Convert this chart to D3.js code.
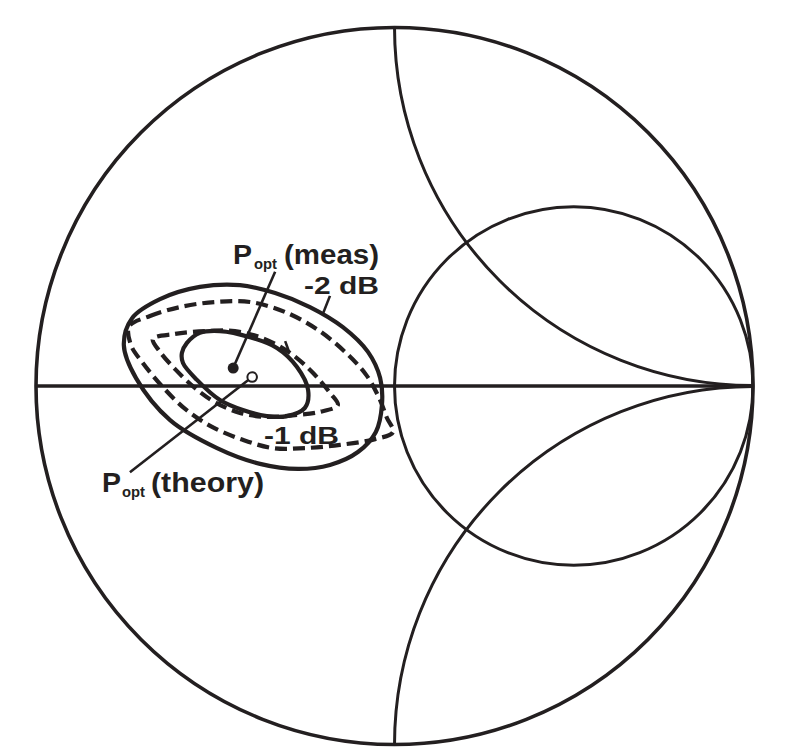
<!DOCTYPE html>
<html>
<head>
<meta charset="utf-8">
<script src="https://cdn.jsdelivr.net/npm/d3@7/dist/d3.min.js"></script>
<style>
  body { margin: 0; background: #fff; }
  text { font-family: "Liberation Sans", Arial, sans-serif; font-weight: bold; fill: #231f20; }
</style>
</head>
<body>
<div id="chart"></div>
<script>
const W = 802, H = 754;
const INK = "#231f20";

// smith chart grid (normalised impedance)
const resistanceCircles = [1];
const reactanceArcs = [1, -1];

// gain contours, points in the reflection-coefficient plane [re, im]
const measMinus1dB = [
  [-0.593, 0.092], [-0.579, 0.120], [-0.543, 0.148], [-0.487, 0.153], [-0.403, 0.136],
  [-0.328, 0.106], [-0.272, 0.053], [-0.241, -0.011], [-0.250, -0.061], [-0.300, -0.084],
  [-0.356, -0.084], [-0.423, -0.067], [-0.487, -0.039], [-0.551, 0.017], [-0.590, 0.064]
];
const measMinus2dB = [
  [-0.035, -0.053], [-0.052, -0.128], [-0.102, -0.184], [-0.180, -0.220], [-0.269, -0.231],
  [-0.375, -0.217], [-0.495, -0.173], [-0.626, -0.095], [-0.721, 0.022], [-0.755, 0.114],
  [-0.732, 0.189], [-0.654, 0.242], [-0.543, 0.276], [-0.431, 0.281], [-0.333, 0.259],
  [-0.236, 0.220], [-0.144, 0.164], [-0.074, 0.095], [-0.040, 0.022]
];
const theoryMinus1dB = [
  [-0.674, 0.131], [-0.612, 0.145], [-0.529, 0.153], [-0.445, 0.153], [-0.370, 0.134],
  [-0.291, 0.092], [-0.227, 0.036], [-0.180, -0.019], [-0.158, -0.053], [-0.208, -0.072],
  [-0.278, -0.081], [-0.356, -0.086], [-0.431, -0.075], [-0.501, -0.045], [-0.556, -0.006],
  [-0.612, 0.047], [-0.654, 0.095]
];
const theoryMinus2dB = [
  [-0.740, 0.166], [-0.682, 0.195], [-0.598, 0.220], [-0.501, 0.234], [-0.403, 0.234],
  [-0.305, 0.206], [-0.213, 0.156], [-0.138, 0.095], [-0.079, 0.031], [-0.043, -0.033],
  [-0.021, -0.089], [-0.004, -0.128], [-0.054, -0.148], [-0.152, -0.164], [-0.250, -0.173],
  [-0.339, -0.173], [-0.423, -0.150], [-0.509, -0.114], [-0.584, -0.064], [-0.649, 0.000],
  [-0.702, 0.064], [-0.735, 0.114]
];
const poptMeas = [-0.450, 0.050];
const poptTheory = [-0.397, 0.025];

const svg = d3.select("#chart").append("svg")
  .attr("width", W)
  .attr("height", H);

const x = d3.scaleLinear().domain([-1, 1]).range([36, 753]);
const y = d3.scaleLinear().domain([-1, 1]).range([745, 27]);
const rad = v => x(v) - x(0);

svg.append("clipPath").attr("id", "unit")
  .append("circle")
  .attr("cx", x(0)).attr("cy", y(0)).attr("r", rad(1));

const grid = svg.append("g").attr("fill", "none").attr("stroke", INK);

// real axis
grid.append("line")
  .attr("x1", x(-1)).attr("x2", x(1))
  .attr("y1", y(0)).attr("y2", y(0))
  .attr("stroke-width", 3.3);

// constant resistance
grid.selectAll(".res").data(resistanceCircles).enter()
  .append("circle")
  .attr("cx", r => x(r / (1 + r)))
  .attr("cy", y(0))
  .attr("r", r => rad(1 / (1 + r)))
  .attr("stroke-width", 3);

// constant reactance
grid.selectAll(".reac").data(reactanceArcs).enter()
  .append("circle")
  .attr("clip-path", "url(#unit)")
  .attr("cx", x(1))
  .attr("cy", xx => y(1 / xx))
  .attr("r", xx => rad(1 / Math.abs(xx)))
  .attr("stroke-width", 3);

// outer rim
grid.append("circle")
  .attr("cx", x(0)).attr("cy", y(0)).attr("r", rad(1))
  .attr("stroke-width", 3.6);

const contour = d3.line()
  .x(d => x(d[0]))
  .y(d => y(d[1]))
  .curve(d3.curveCatmullRomClosed.alpha(0.5));

const contours = [
  { pts: theoryMinus2dB, dash: "12,6" },
  { pts: theoryMinus1dB, dash: "12,6" },
  { pts: measMinus2dB, dash: null },
  { pts: measMinus1dB, dash: null }
];

svg.append("g").selectAll("path").data(contours).enter()
  .append("path")
  .attr("d", d => contour(d.pts))
  .attr("fill", "none")
  .attr("stroke", INK)
  .attr("stroke-width", 4.2)
  .attr("stroke-dasharray", d => d.dash);

// leaders
const leaders = svg.append("g").attr("stroke", INK).attr("stroke-width", 2.6);
leaders.append("line")
  .attr("x1", x(poptMeas[0])).attr("y1", y(poptMeas[1]))
  .attr("x2", x(-0.333)).attr("y2", y(0.318));
leaders.append("line")
  .attr("x1", x(poptTheory[0])).attr("y1", y(poptTheory[1]))
  .attr("x2", x(-0.738)).attr("y2", y(-0.240));
leaders.append("line")
  .attr("x1", x(-0.180)).attr("y1", y(0.251))
  .attr("x2", x(-0.199)).attr("y2", y(0.203));
leaders.append("line")
  .attr("x1", x(-0.305)).attr("y1", y(0.125))
  .attr("x2", x(-0.294)).attr("y2", y(0.095));

svg.append("circle")
  .attr("cx", x(poptMeas[0])).attr("cy", y(poptMeas[1])).attr("r", 5.5)
  .attr("fill", INK);
svg.append("circle")
  .attr("cx", x(poptTheory[0])).attr("cy", y(poptTheory[1])).attr("r", 4.8)
  .attr("fill", "#fff").attr("stroke", INK).attr("stroke-width", 2);

// labels
function label(parts) {
  parts.forEach(p => {
    svg.append("text")
      .attr("x", p.x).attr("y", p.y)
      .attr("font-size", p.size)
      .attr("textLength", p.len)
      .attr("lengthAdjust", "spacingAndGlyphs")
      .text(p.t);
  });
}

label([
  { t: "P", x: 233, y: 264, size: 27, len: 19 },
  { t: "opt", x: 254, y: 269, size: 14, len: 23 },
  { t: "(meas)", x: 284, y: 264, size: 27, len: 95 },
  { t: "-2 dB", x: 304, y: 294, size: 24.5, len: 75 },
  { t: "-1 dB", x: 264, y: 444, size: 24.5, len: 75 },
  { t: "P", x: 102, y: 492, size: 28, len: 19 },
  { t: "opt", x: 122, y: 497, size: 14.5, len: 23 },
  { t: "(theory)", x: 151, y: 492, size: 28, len: 113 }
]);
</script>
</body>
</html>
